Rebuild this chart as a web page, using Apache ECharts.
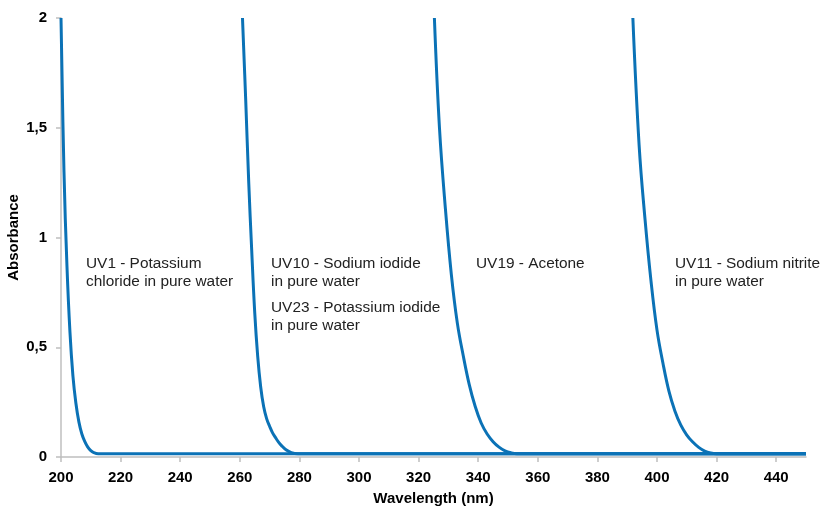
<!DOCTYPE html>
<html>
<head>
<meta charset="utf-8">
<script src="https://cdn.jsdelivr.net/npm/echarts@6/dist/echarts.min.js"></script>
<style>
html,body{margin:0;padding:0;background:#fff;}
#chart{width:821px;height:506px;}
</style>
</head>
<body>
<div id="chart"></div>
<script>
// Wavelength (nm) and absorbance samples
var kclX = [200.0, 201, 202, 203, 204, 205, 206, 207, 208, 209, 210, 211, 212.5, 450];
var kclY = [2.0, 1.3, 0.87, 0.57, 0.37, 0.245, 0.16, 0.105, 0.07, 0.045, 0.029, 0.02, 0.015, 0.015];

var naiX = [260.9, 262, 263, 264, 265, 266, 267, 268, 269, 270, 271, 272, 273, 274, 275.5, 277.3, 279.5, 450];
var naiY = [2.0, 1.62, 1.25, 0.94, 0.66, 0.46, 0.32, 0.23, 0.175, 0.14, 0.11, 0.088, 0.068, 0.052, 0.033, 0.02, 0.015, 0.015];

var acetoneX = [325.3, 327, 329, 331, 333, 335, 337, 339, 341, 343, 345, 347, 349, 351, 353, 450];
var acetoneY = [2.0, 1.5, 1.13, 0.83, 0.61, 0.46, 0.33, 0.23, 0.155, 0.105, 0.07, 0.045, 0.028, 0.019, 0.015, 0.015];

var nitriteX = [391.9, 394, 396, 398, 400, 402, 404, 406, 408, 410, 412, 414, 416, 418, 420, 450];
var nitriteY = [2.0, 1.42, 1.08, 0.80, 0.578, 0.427, 0.30, 0.21, 0.145, 0.10, 0.068, 0.044, 0.027, 0.018, 0.015, 0.015];

var xTickValues = [200, 220, 240, 260, 280, 300, 320, 340, 360, 380, 400, 420, 440];
var yTickValues = [0, 0.5, 1, 1.5, 2];
var yTickLabels = ['0', '0,5', '1', '1,5', '2'];

var label1 = ['UV1 - Potassium', 'chloride in pure water'];
var label2 = ['UV10 - Sodium iodide', 'in pure water'];
var label3 = ['UV23 - Potassium iodide', 'in pure water'];
var label4 = ['UV19 - Acetone'];
var label5 = ['UV11 - Sodium nitrite', 'in pure water'];

function zip(xs, ys) {
  var out = [];
  for (var i = 0; i < xs.length; i++) out.push([xs[i], ys[i]]);
  return out;
}

var lineColor = '#0b72b6';
var axisColor = '#bfbfbf';
var font = 'Liberation Sans, Arial, sans-serif';

function mkSeries(name, xs, ys) {
  return {
    name: name,
    type: 'line',
    data: zip(xs, ys),
    showSymbol: false,
    smooth: 0.4,
    lineStyle: { color: lineColor, width: 3 },
    silent: true,
    clip: true
  };
}

function textEl(x, yBase, str) {
  return {
    type: 'text',
    x: x,
    y: yBase,
    style: {
      text: str,
      fill: '#222222',
      font: '15.4px ' + font,
      textAlign: 'left',
      textVerticalAlign: 'bottom',
      verticalAlign: 'bottom'
    }
  };
}

var chart = echarts.init(document.getElementById('chart'), null, { renderer: 'canvas' });
var option = {
  animation: false,
  backgroundColor: '#ffffff',
  grid: { left: 61, right: 15, top: 18, bottom: 49, containLabel: false, outerBoundsMode: 'none' },
  xAxis: {
    type: 'value',
    min: 200,
    max: 450,
    interval: 20,
    name: 'Wavelength (nm)',
    nameLocation: 'middle',
    nameGap: 34,
    nameMoveOverlap: false,
    nameTextStyle: { fontFamily: font, fontSize: 15, fontWeight: 'bold', color: '#000' },
    axisLine: { show: true, lineStyle: { color: axisColor, width: 1.5 } },
    axisTick: { show: true, length: 5, lineStyle: { color: axisColor, width: 1.5 }, customValues: xTickValues },
    axisLabel: { fontFamily: font, fontSize: 15, fontWeight: 'bold', color: '#000', margin: 13, customValues: xTickValues },
    splitLine: { show: false }
  },
  yAxis: {
    type: 'value',
    min: 0,
    max: 2,
    interval: 0.5,
    name: 'Absorbance',
    nameLocation: 'middle',
    nameGap: 40,
    nameMoveOverlap: false,
    nameRotate: 90,
    nameTextStyle: { fontFamily: font, fontSize: 15, fontWeight: 'bold', color: '#000' },
    axisLine: { show: true, lineStyle: { color: axisColor, width: 1.5 } },
    axisTick: { show: true, length: 5, lineStyle: { color: axisColor, width: 1.5 } },
    axisLabel: {
      fontFamily: font, fontSize: 15, fontWeight: 'bold', color: '#000', margin: 14,
      formatter: function (v) {
        var i = yTickValues.indexOf(v);
        return i >= 0 ? yTickLabels[i] : '';
      }
    },
    splitLine: { show: false }
  },
  series: [
    mkSeries('UV1', kclX, kclY),
    mkSeries('UV10/UV23', naiX, naiY),
    mkSeries('UV19', acetoneX, acetoneY),
    mkSeries('UV11', nitriteX, nitriteY)
  ],
  graphic: [
    textEl(86, 271, label1[0]),
    textEl(86, 289, label1[1]),
    textEl(271, 271, label2[0]),
    textEl(271, 289, label2[1]),
    textEl(271, 315, label3[0]),
    textEl(271, 333, label3[1]),
    textEl(476, 271, label4[0]),
    textEl(675, 271, label5[0]),
    textEl(675, 289, label5[1])
  ]
};
chart.setOption(option);
</script>
</body>
</html>
